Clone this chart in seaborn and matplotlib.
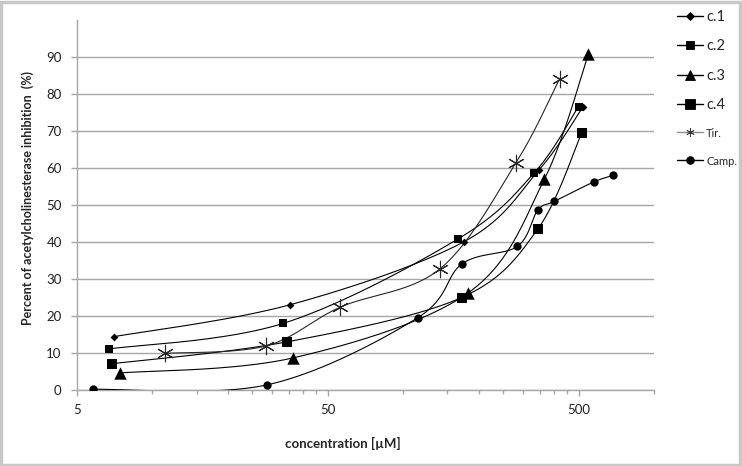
import numpy as np
import pandas as pd
import matplotlib
matplotlib.use("Agg")
import matplotlib.pyplot as plt
from matplotlib.lines import Line2D
from matplotlib.patches import Rectangle
from matplotlib.ticker import FixedLocator, NullFormatter
import seaborn as sns

sns.set_style("white")
plt.rcParams['font.family'] = ['Lato', 'DejaVu Sans']

# Data (concentration in uM, % inhibition)
c1_x = [7.0, 35.2, 175, 347, 522]
c1_y = [14.4, 23.0, 40.1, 59.4, 76.6]
c2_x = [6.7, 33.2, 166, 333, 500]
c2_y = [11.1, 18.0, 40.9, 58.7, 76.6]
c3_x = [7.4, 36.5, 182, 365, 548]
c3_y = [4.6, 8.7, 26.3, 56.9, 90.8]
c4_x = [6.9, 34.3, 171, 344, 515]
c4_y = [7.1, 13.0, 25.0, 43.5, 69.5]
tir_x = [11.2, 28.3, 56.1, 140.5, 281.5, 420]
tir_y = [9.9, 11.9, 22.4, 32.8, 61.4, 84.1]
camp_x = [5.77, 28.7, 114, 171.5, 285, 344, 401, 574, 687]
camp_y = [0.2, 1.4, 19.5, 34.1, 38.8, 48.6, 51.0, 56.2, 58.0]

series = {
    "c.1": (c1_x, c1_y),
    "c.2": (c2_x, c2_y),
    "c.3": (c3_x, c3_y),
    "c.4": (c4_x, c4_y),
    "Tir.": (tir_x, tir_y),
    "Camp.": (camp_x, camp_y),
}
styles = {
    "c.1": dict(marker="D", s=16, color="black"),
    "c.2": dict(marker="s", s=30, color="black"),
    "c.3": dict(marker="^", s=80, color="black"),
    "c.4": dict(marker="s", s=42, color="black"),
    "Tir.": dict(marker=(6, 2, 0), s=140, color="#262626"),
    "Camp.": dict(marker="o", s=36, color="black"),
}


def smooth(x, y, n=40):
    # Excel-style smoothed line (uniform Catmull-Rom Bezier in log-x space)
    p = np.column_stack([np.log10(x), y])
    p = np.vstack([p[0], p, p[-1]])
    t = np.linspace(0, 1, n)[:, None]
    out = []
    for i in range(1, len(p) - 2):
        b0 = p[i]
        b3 = p[i + 1]
        b1 = b0 + (p[i + 1] - p[i - 1]) / 6
        b2 = b3 - (p[i + 2] - p[i]) / 6
        seg = ((1 - t) ** 3) * b0 + 3 * ((1 - t) ** 2) * t * b1 + 3 * (1 - t) * t ** 2 * b2 + t ** 3 * b3
        out.append(seg)
    out = np.vstack(out)
    return 10 ** out[:, 0], out[:, 1]


fig = plt.figure(figsize=(7.42, 4.66), dpi=100)
ax = fig.add_axes([77 / 742, 1 - 390 / 466, 577 / 742, 370 / 466])

for name, (xs, ys) in series.items():
    st = styles[name]
    sx, sy = smooth(xs, ys)
    ax.plot(sx, sy, color=st["color"], lw=0.8, zorder=3)
    df = pd.DataFrame({"x": xs, "y": ys})
    if name == "Tir.":
        sns.scatterplot(data=df, x="x", y="y", ax=ax, marker=st["marker"], s=st["s"],
                        color=st["color"], linewidth=0.8, zorder=4)
    else:
        sns.scatterplot(data=df, x="x", y="y", ax=ax, marker=st["marker"], s=st["s"],
                        color=st["color"], edgecolor=st["color"], linewidth=0, zorder=4)

ax.set_xscale("log")
ax.set_xlim(5, 1000)
ax.set_ylim(0, 100)
ax.set_xticks([5, 50, 500])
ax.set_xticklabels(["5", "50", "500"])
minors = [5 * k for k in range(2, 10)] + [50 * k for k in range(2, 10)] + [1000]
ax.xaxis.set_minor_locator(FixedLocator(minors))
ax.xaxis.set_minor_formatter(NullFormatter())
ax.set_yticks(range(0, 100, 10))

ax.grid(axis="y", color="#a6a6a6", lw=1)
ax.grid(axis="x", visible=False)
for side in ["top", "right"]:
    ax.spines[side].set_visible(False)
for side in ["left", "bottom"]:
    ax.spines[side].set_color("#a6a6a6")
    ax.spines[side].set_linewidth(1)
ax.tick_params(axis="both", which="major", direction="out", length=4, width=1,
               color="#a6a6a6", labelsize=9.5, labelcolor="#202020", bottom=True, left=True)
ax.tick_params(axis="x", which="minor", direction="out", length=3, width=1, color="#a6a6a6", bottom=True)
ax.tick_params(axis="x", which="major", pad=6)
ax.tick_params(axis="y", which="major", pad=7)

ax.set_xlabel("concentration [µM]", fontsize=9.5, fontweight="bold", va="center")
ax.set_ylabel("Percent of acetylcholinesterase inhibition  (%)", fontsize=9, fontweight="bold")
ax.xaxis.set_label_coords(266 / 577, -53 / 370)
ax.yaxis.set_label_coords(-43 / 577, 0.52)

# legend on the right, outside the plot area
handles = []
for name in series:
    st = styles[name]
    ms = {"c.1": 4, "c.2": 5.5, "c.3": 7.5, "c.4": 6.5, "Tir.": 6, "Camp.": 5.5}[name]
    col = "#8c8c8c" if name == "Tir." else "black"
    handles.append(Line2D([], [], color=col, lw=1, marker=st["marker"], markersize=ms,
                          markerfacecolor="black", markeredgecolor="#3a3a3a" if name == "Tir." else "black",
                          markeredgewidth=0.6))
leg = fig.legend(handles, list(series.keys()), loc="upper left", bbox_to_anchor=(677 / 742, 1 - 10 / 466),
                 frameon=False, borderpad=0, borderaxespad=0, handlelength=1.8, handletextpad=0.2,
                 labelspacing=1.05, fontsize=10.5)
for txt, name in zip(leg.get_texts(), series):
    if name in ("Tir.", "Camp."):
        txt.set_fontsize(8)

# chart border
fig.patches.append(Rectangle((0.002, 0.003), 0.995, 0.993, transform=fig.transFigure,
                             fill=False, edgecolor="#c8c8c8", lw=2.5))

fig.savefig("out.png", dpi=100)
